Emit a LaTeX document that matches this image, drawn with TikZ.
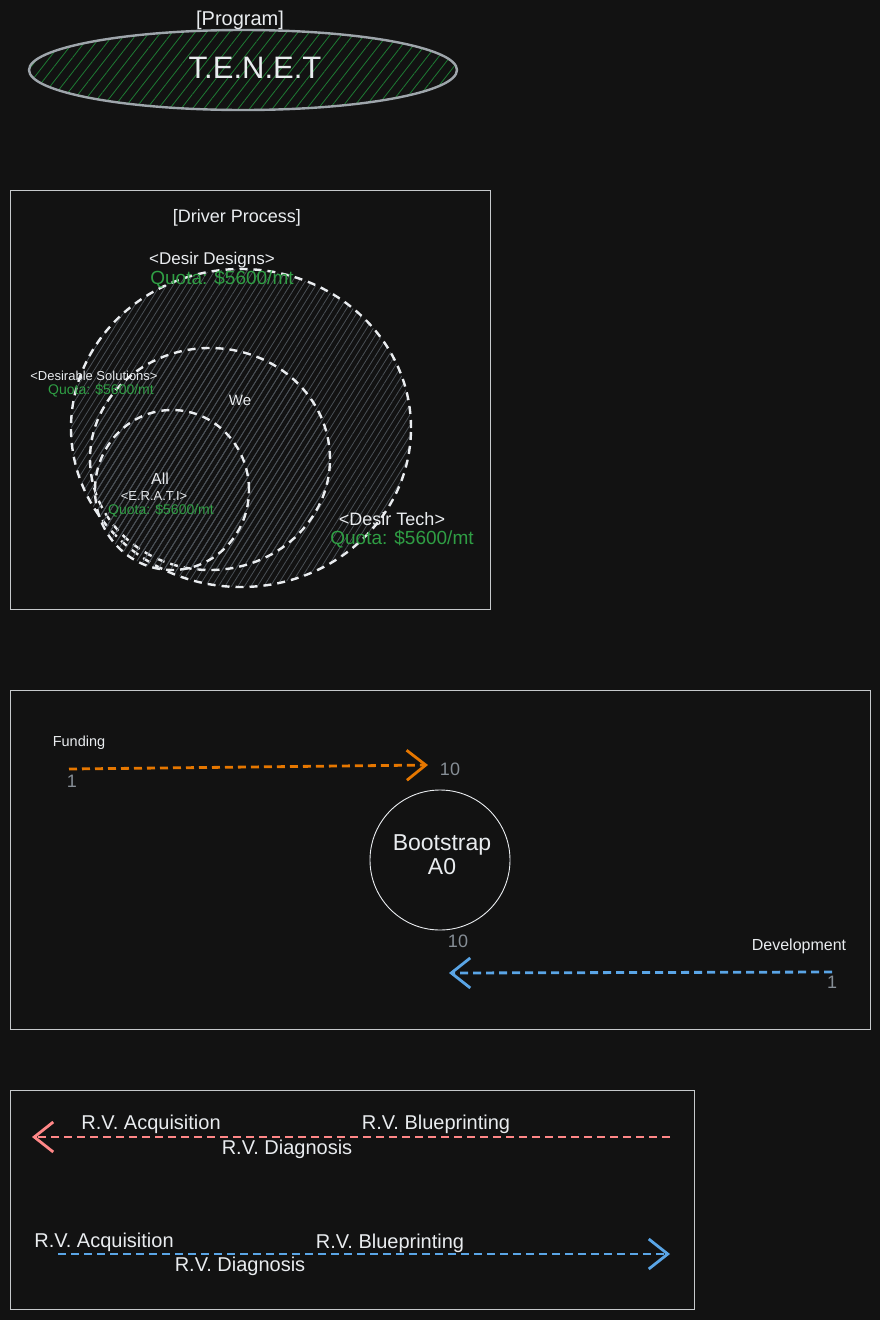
\documentclass[tikz,border=0pt]{standalone}
\usepackage{fontspec}
\setmainfont{Liberation Sans}
\usetikzlibrary{arrows.meta,patterns.meta,shapes.geometric}
\definecolor{bgdark}{HTML}{121212}
\definecolor{inkwhite}{HTML}{E9ECEF}
\definecolor{inkgray}{HTML}{868E96}
\definecolor{quotagreen}{HTML}{2F9E44}
\definecolor{hatchgreen}{HTML}{1E7B34}
\definecolor{hatchgray}{HTML}{4A5056}
\definecolor{fundorange}{HTML}{E67700}
\definecolor{devblue}{HTML}{5AA5E6}
\definecolor{rvred}{HTML}{FF8787}
\begin{document}
\begin{tikzpicture}[x=1pt,y=-1pt,
  lbl/.style={text=inkwhite, inner sep=0pt, font=\fontsize{#1}{#1}\selectfont},
  quota/.style={text=quotagreen, inner sep=0pt, font=\fontsize{#1}{#1}\selectfont},
  num/.style={text=inkgray, inner sep=0pt, font=\fontsize{18}{18}\selectfont},
  frame/.style={draw=inkwhite!85!black, line width=0.9pt},
  venn/.style={ellipse, draw=inkwhite, line width=2.4pt, dash pattern=on 8pt off 6pt, inner sep=0pt,
    pattern={Lines[angle=58,distance=5.5pt,line width=0.8pt]}, pattern color=hatchgray},
  flow/.style={line width=2.8pt, dash pattern=on 8pt off 5pt, -{Straight Barb[length=19pt,width=30pt]}}]
\fill[bgdark] (0,0) rectangle (880,1320);
\useasboundingbox (0,0) rectangle (880,1320);
\node[ellipse, draw=inkgray!80!white, line width=2.4pt, minimum width=428pt, minimum height=80pt, inner sep=0pt,
  pattern={Lines[angle=52,distance=9pt,line width=0.8pt]}, pattern color=hatchgreen] (tenet) at (243,70) {};
\node[lbl=31] (tenetText) at (255,68) {T.E.N.E.T};
\node[lbl=20] (program) at (240,20) {[Program]};
\draw[frame] (10,190) rectangle (490,609);
\node[lbl=18] (driver) at (237,218) {[Driver Process]};
\node[venn, minimum width=340pt, minimum height=318pt] (designs) at (241,428) {};
\node[venn, minimum width=240pt, minimum height=222pt] (solutions) at (210,459) {};
\node[venn, minimum width=154pt, minimum height=160pt] (erati) at (172,490) {};
\node[lbl=17] (designsName) at (212,260) {<Desir Designs>};
\node[quota=19] (designsQuota) at (222,279) {Quota: \$5600/mt};
\node[lbl=13] (solutionsName) at (94,376) {<Desirable Solutions>};
\node[quota=14] (solutionsQuota) at (101,391) {Quota: \$5600/mt};
\node[lbl=15] (we) at (240,400) {We};
\node[lbl=16] (all) at (160,479) {All};
\node[lbl=13] (eratiName) at (154,496) {<E.R.A.T.I>};
\node[quota=14] (eratiQuota) at (161,511) {Quota: \$5600/mt};
\node[lbl=18] (techName) at (392,519) {<Desir Tech>};
\node[quota=19] (techQuota) at (402,539) {Quota: \$5600/mt};
\draw[frame] (10,690) rectangle (870,1029);
\node[lbl=14.5] (funding) at (79,743) {Funding};
\coordinate (fundStart) at (69,769);
\coordinate (fundEnd) at (428,765);
\node[num] (fundOne) at (72,781) {1};
\node[num] (fundTen) at (450,769) {10};
\node[circle, draw=inkwhite, line width=0.9pt, minimum size=140pt, inner sep=0pt] (bootstrap) at (440,860) {};
\node[lbl=23, align=center] (bootstrapText) at (442,855) {Bootstrap\\[1pt]A0};
\node[num] (devTen) at (458,941) {10};
\node[lbl=16] (development) at (799,946) {Development};
\coordinate (devStart) at (832,972);
\coordinate (devEnd) at (449,973);
\node[num] (devOne) at (832,982) {1};
\path (fundStart) edge[flow, draw=fundorange] (fundEnd);
\path (devStart) edge[flow, draw=devblue] (devEnd);
\draw[frame] (10,1090) rectangle (694,1309);
\coordinate (rvBackStart) at (670,1137);
\coordinate (rvBackEnd) at (32,1137);
\node[lbl=20] (backAcq) at (151,1124) {R.V. Acquisition};
\node[lbl=20] (backBlue) at (436,1124) {R.V. Blueprinting};
\node[lbl=20] (backDiag) at (287,1149) {R.V. Diagnosis};
\coordinate (rvFwdStart) at (58,1254);
\coordinate (rvFwdEnd) at (670,1254);
\node[lbl=20] (fwdAcq) at (104,1242) {R.V. Acquisition};
\node[lbl=20] (fwdBlue) at (390,1243) {R.V. Blueprinting};
\node[lbl=20] (fwdDiag) at (240,1266) {R.V. Diagnosis};
\path (rvBackStart) edge[flow, draw=rvred] (rvBackEnd);
\path (rvFwdStart) edge[flow, draw=devblue] (rvFwdEnd);
\end{tikzpicture}
\end{document}
